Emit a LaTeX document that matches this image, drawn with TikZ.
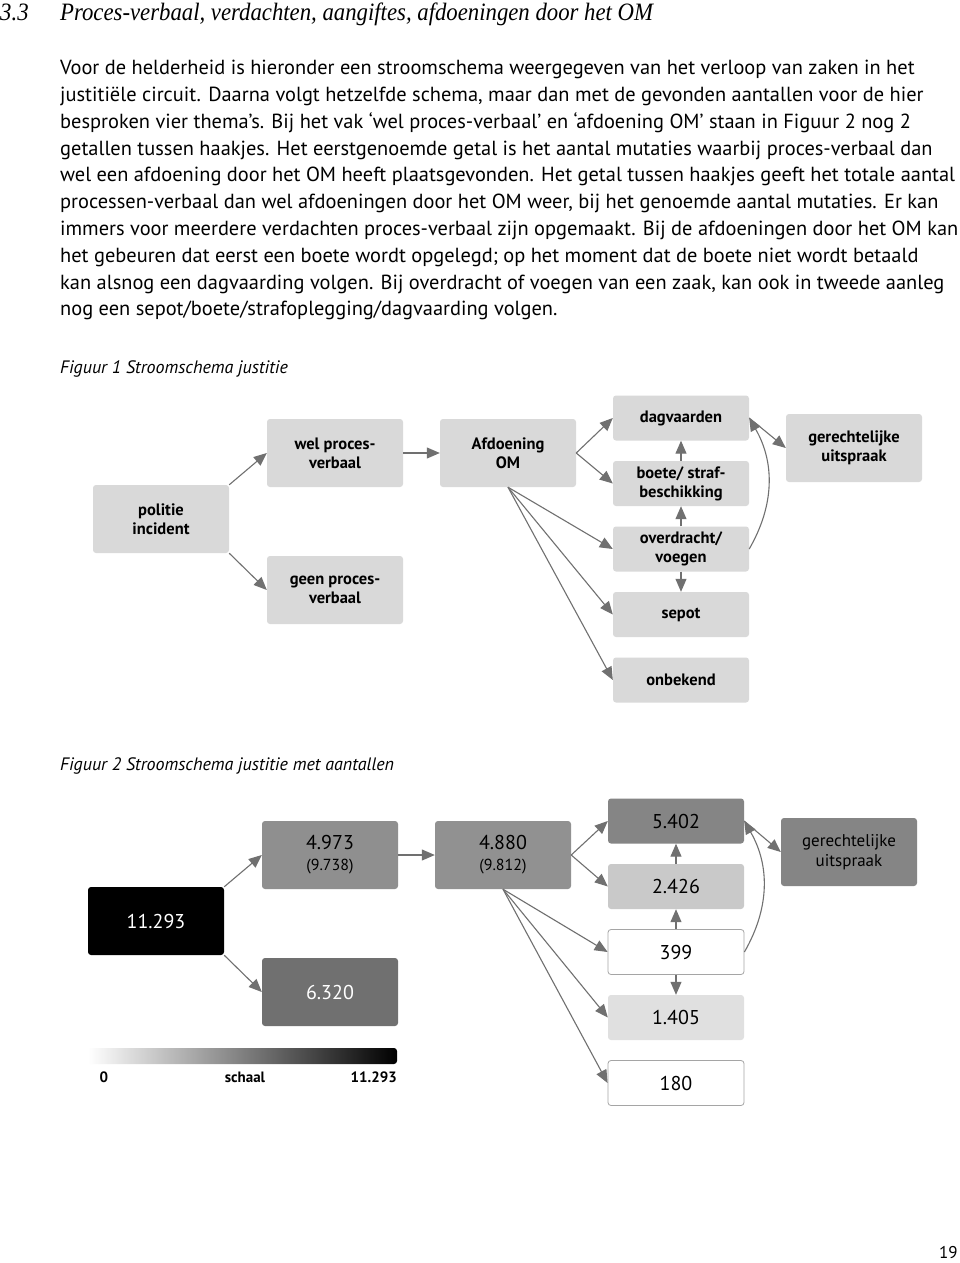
\documentclass[tikz,border=0pt]{standalone}
\usepackage{fontspec}
\setmainfont{PT Sans}
\newfontfamily\kopletter{Liberation Serif}
\usepackage{tikz}
\usetikzlibrary{arrows.meta,positioning}

\definecolor{lijngrijs}{RGB}{112,112,112}
\definecolor{vakgrijs}{RGB}{217,217,217}
\definecolor{randgrijs}{RGB}{165,165,165}

\begin{document}
\begin{tikzpicture}[x=1pt,y=-1pt,node distance=65.5pt,on grid,
    >={Triangle[length=13pt,width=11pt,fill=lijngrijs]}]
  \tikzstyle{vak}=[rectangle,rounded corners=3pt,fill=vakgrijs,
    minimum width=136pt,minimum height=68pt,inner sep=0pt,align=center,
    font=\fontsize{16.5}{19}\selectfont\bfseries]
  \tikzstyle{laag}=[vak,minimum height=45pt]
  \tikzstyle{getal}=[font=\fontsize{20}{21}\selectfont]
  \tikzstyle{leeg}=[fill=white,draw=randgrijs,line width=0.8pt]
  \tikzstyle{every edge}=[draw=lijngrijs,line width=1.1pt,->]
  \tikzstyle{regel}=[inner sep=0pt,anchor=base west]

  \useasboundingbox[fill=white] (0,0) rectangle (960,1263);

  % tekst
  \node[regel,font=\kopletter\itshape\fontsize{25}{28}\selectfont] (nr) at (0,21) {\scalebox{0.91}[1]{3.3}};
  \node[regel,font=\kopletter\itshape\fontsize{25}{28}\selectfont] (kop) at (60,21)
    {\scalebox{0.91}[1]{Proces-verbaal, verdachten, aangiftes, afdoeningen door het OM}};
  \node[inner sep=0pt,anchor=north west,align=left,font=\fontsize{20.4}{26.8}\selectfont] (tekst) at (60,60)
    {Voor de helderheid is hieronder een stroomschema weergegeven van het verloop van zaken in het\\
     justitiële circuit. Daarna volgt hetzelfde schema, maar dan met de gevonden aantallen voor de hier\\
     besproken vier thema’s. Bij het vak ‘wel proces-verbaal’ en ‘afdoening OM’ staan in Figuur 2 nog 2\\
     getallen tussen haakjes. Het eerstgenoemde getal is het aantal mutaties waarbij proces-verbaal dan\\
     wel een afdoening door het OM heeft plaatsgevonden. Het getal tussen haakjes geeft het totale aantal\\
     processen-verbaal dan wel afdoeningen door het OM weer, bij het genoemde aantal mutaties. Er kan\\
     immers voor meerdere verdachten proces-verbaal zijn opgemaakt. Bij de afdoeningen door het OM kan\\
     het gebeuren dat eerst een boete wordt opgelegd; op het moment dat de boete niet wordt betaald\\
     kan alsnog een dagvaarding volgen. Bij overdracht of voegen van een zaak, kan ook in tweede aanleg\\
     nog een sepot/boete/strafoplegging/dagvaarding volgen.};
  \node[regel,font=\itshape\fontsize{18}{20}\selectfont] (fig1) at (60,373) {Figuur 1 Stroomschema justitie};
  \node[regel,font=\itshape\fontsize{18}{20}\selectfont] (fig2) at (60,770) {Figuur 2 Stroomschema justitie met aantallen};
  \node[regel,font=\fontsize{17}{19}\selectfont] (pagina) at (939,1258) {19};

  % figuur 1
  \node[vak] (politie) at (161,519) {politie\\incident};
  \node[vak] (welpv) at (335,453) {wel proces-\\verbaal};
  \node[vak] (geenpv) at (335,590) {geen proces-\\verbaal};
  \node[vak] (afdom) at (508,453) {Afdoening\\OM};
  \node[laag] (dagv) at (681,418) {dagvaarden};
  \node[laag] (boete) [below of=dagv] {boete/ straf-\\beschikking};
  \node[laag] (overdr) [below of=boete] {overdracht/\\voegen};
  \node[laag] (sepot) [below of=overdr] {sepot};
  \node[laag] (onbek) [below of=sepot] {onbekend};
  \node[vak] (gerecht) at (854,448) {gerechtelijke\\uitspraak};

  \path
    (politie.north east) edge (welpv.west)
    (politie.south east) edge (geenpv.west)
    (welpv) edge (afdom)
    (afdom.east) edge (dagv.west)
    (afdom.east) edge (boete.west)
    (afdom.south) edge (overdr.west)
    (afdom.south) edge (sepot.west)
    (afdom.south) edge (onbek.west)
    (boete) edge (dagv)
    (overdr) edge (boete)
    (overdr) edge (sepot)
    (overdr.east) edge[bend right=30] (dagv.east)
    (dagv.east) edge (gerecht.west);

  % figuur 2
  \node[vak,fill=black,text=white,getal] (politie2) at (156,921) {11.293};
  \node[vak,fill=black!44,getal] (welpv2) at (330,855)
    {4.973\\{\fontsize{16}{18}\selectfont(9.738)}};
  \node[vak,fill=black!56,text=white,getal] (geenpv2) at (330,992) {6.320};
  \node[vak,fill=black!43,getal] (afdom2) at (503,855)
    {4.880\\{\fontsize{16}{18}\selectfont(9.812)}};
  \node[laag,fill=black!48,getal] (dagv2) at (676,821) {5.402};
  \node[laag,fill=black!21,getal] (boete2) [below of=dagv2] {2.426};
  \node[laag,leeg,getal] (overdr2) [below of=boete2] {399};
  \node[laag,fill=black!12,getal] (sepot2) [below of=overdr2] {1.405};
  \node[laag,leeg,getal] (onbek2) [below of=sepot2] {180};
  \node[vak,fill=black!48,font=\fontsize{17}{20}\selectfont] (gerecht2) at (849,852) {gerechtelijke\\uitspraak};

  \path
    (politie2.north east) edge (welpv2.west)
    (politie2.south east) edge (geenpv2.west)
    (welpv2) edge (afdom2)
    (afdom2.east) edge (dagv2.west)
    (afdom2.east) edge (boete2.west)
    (afdom2.south) edge (overdr2.west)
    (afdom2.south) edge (sepot2.west)
    (afdom2.south) edge (onbek2.west)
    (boete2) edge (dagv2)
    (overdr2) edge (boete2)
    (overdr2) edge (sepot2)
    (overdr2.east) edge[bend right=30] (dagv2.east)
    (dagv2.east) edge (gerecht2.west);

  % schaal
  \shade[left color=white,right color=black,rounded corners=3pt] (88,1048) rectangle (397,1064);
  \node[font=\fontsize{15}{17}\selectfont\bfseries] (nul) at (104,1077) {0};
  \node[font=\fontsize{15}{17}\selectfont\bfseries] (schaal) at (245,1077) {schaal};
  \node[anchor=east,inner sep=0pt,font=\fontsize{15}{17}\selectfont\bfseries] (max) at (397,1077) {11.293};
\end{tikzpicture}
\end{document}
